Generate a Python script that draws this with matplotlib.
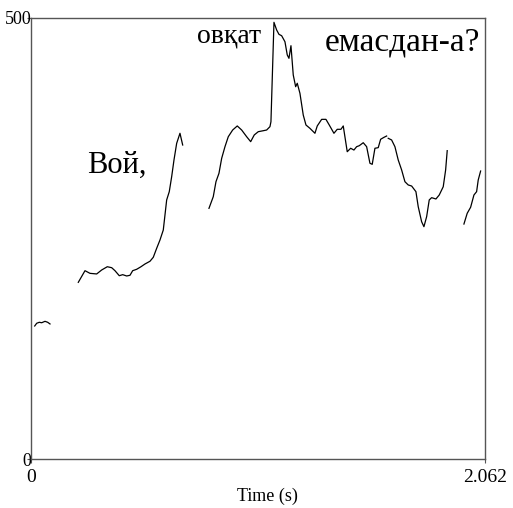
import matplotlib
matplotlib.use("Agg")
import matplotlib.pyplot as plt
import numpy as np

# Pitch contour segments (time s, F0 Hz)
seg1_t = [0.0168, 0.0259, 0.0377, 0.0486, 0.0636, 0.0758, 0.0863]
seg1_f = [150.8, 153.9, 155.0, 154.5, 156.1, 155.0, 153.1]

seg2_t = [0.2148, 0.2452, 0.2679, 0.2983, 0.3210, 0.3465, 0.3665, 0.3814, 0.4010,
          0.4164, 0.4346, 0.4496, 0.4618, 0.4800, 0.4995, 0.5177, 0.5404, 0.5554,
          0.5708, 0.5858, 0.6008, 0.6162, 0.6280, 0.6389, 0.6494, 0.6616, 0.6766, 0.6889]
seg2_f = [200.3, 213.5, 210.5, 209.8, 214.3, 218.0, 216.9, 213.5, 207.8,
          209.0, 207.5, 208.3, 213.5, 215.1, 218.0, 221.1, 224.2, 228.7,
          238.9, 248.3, 259.6, 293.7, 303.1, 320.1, 339.0, 357.9, 369.3, 356.0]

seg3_t = [0.8083, 0.8278, 0.8401, 0.8537, 0.8660, 0.8810, 0.8960, 0.9159, 0.9368,
          0.9568, 0.9795, 0.9977, 1.0140, 1.0322, 1.0549, 1.0703, 1.0853, 1.0898,
          1.1035, 1.1157, 1.1262, 1.1384, 1.1534, 1.1639, 1.1716, 1.1807, 1.1911,
          1.2020, 1.2093, 1.2215, 1.2365, 1.2488, 1.2669, 1.2896, 1.3001, 1.3201,
          1.3396, 1.3546, 1.3759, 1.3909, 1.4077, 1.4182, 1.4363, 1.4518, 1.4667,
          1.4790, 1.4908, 1.5090, 1.5244, 1.5394, 1.5498, 1.5621, 1.5771, 1.5880,
          1.6030, 1.6152]
seg3_f = [284.2, 297.4, 314.4, 323.9, 340.9, 354.1, 365.4, 373.0, 377.6,
          373.0, 365.4, 359.8, 367.4, 371.1, 372.2, 373.0, 376.8, 382.4,
          495.1, 486.4, 481.5, 479.9, 473.1, 458.1, 454.3, 468.6, 435.4,
          422.1, 426.0, 414.6, 390.0, 378.7, 374.9, 369.3, 377.6, 385.1,
          385.1, 378.7, 369.3, 373.8, 373.8, 377.6, 348.4, 352.3, 350.3,
          354.1, 355.2, 358.6, 354.1, 335.3, 334.1, 352.3, 353.0, 362.5,
          364.7, 366.2]

seg4_t = [1.6225, 1.6379, 1.6529, 1.6679, 1.6834, 1.6983, 1.7133, 1.7288, 1.7483,
          1.7587, 1.7742, 1.7846, 1.7969, 1.8087, 1.8196, 1.8391, 1.8541, 1.8723,
          1.8832, 1.8904]
seg4_f = [363.6, 361.7, 354.1, 339.0, 327.7, 314.4, 310.7, 309.5, 303.1,
          286.1, 269.0, 263.4, 274.7, 293.7, 296.3, 294.8, 299.3, 308.7,
          327.7, 349.6]

seg5_t = [1.9663, 1.9812, 1.9967, 2.0117, 2.0239, 2.0312, 2.0421]
seg5_f = [266.4, 278.6, 285.4, 299.3, 303.1, 316.3, 326.5]

segments = [(seg1_t, seg1_f), (seg2_t, seg2_f), (seg3_t, seg3_f),
            (seg4_t, seg4_f), (seg5_t, seg5_f)]

words = ["Вой,", "овқат", "емасдан-а?"]
word_t = [0.388, 0.901, 1.686]
word_f = [324.3, 471.7, 463.7]
word_size = [22, 20, 24]

x_min, x_max = 0.0, 2.062
y_min, y_max = 0, 500

serif = ["Liberation Serif", "DejaVu Serif"]

fig = plt.figure(figsize=(5.13, 5.08), dpi=100)
ax = fig.add_axes([31 / 513, 49 / 508, 454 / 513, 441 / 508])

for t, f in segments:
    ax.plot(t, f, color="black", linewidth=0.9)

for w, t, f, s in zip(words, word_t, word_f, word_size):
    ax.text(t, f, w, ha="center", va="baseline", fontsize=s, family=serif)

ax.set_xlim(x_min, x_max)
ax.set_ylim(y_min, y_max)
ax.set_xticks([x_min, x_max])
ax.set_xticklabels(["0", "2.062"], family=serif, fontsize=14)
ax.set_yticks([y_min, y_max])
ax.set_yticklabels(["0", "500"], family=serif, fontsize=13)
ax.tick_params(axis="y", length=3, width=0.8, color="#555555", pad=-3.5)
ax.tick_params(axis="x", length=3, width=0.8, color="#555555", pad=4)
for sp in ax.spines.values():
    sp.set_color("#555555")
    sp.set_linewidth(1.0)

ax.set_xlabel("Time (s)", family=serif, fontsize=13)
ax.xaxis.set_label_coords(0.52, -0.084)
ax.xaxis.label.set_va("center")

fig.savefig("out.png", dpi=100)
